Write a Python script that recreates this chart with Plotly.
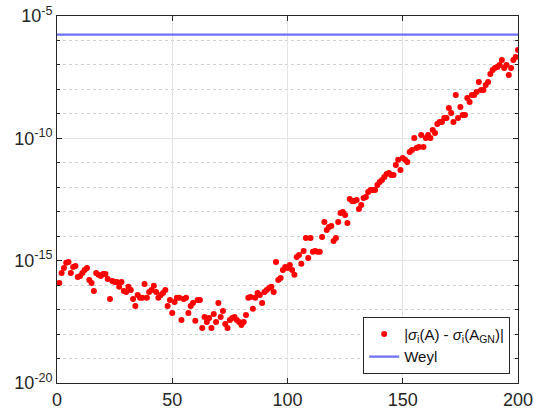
import numpy as np
import plotly.graph_objects as go

# singular value index
index = list(range(1, 201))

# log10 of |sigma_i(A) - sigma_i(A_GN)| for each index
log10_gap = [
    -15.91, -15.50, -15.30, -15.09, -15.05, -15.50, -15.26, -15.22, -15.67, -15.63,
    -15.50, -15.38, -15.30, -15.79, -15.91, -16.24, -15.50, -15.58, -15.63, -15.54,
    -15.54, -15.75, -16.57, -15.83, -15.87, -15.87, -16.07, -15.87, -16.24, -16.28,
    -16.07, -16.20, -16.57, -16.85, -16.40, -16.52, -16.52, -15.95, -16.52, -16.28,
    -16.20, -16.03, -16.28, -16.52, -16.40, -16.32, -16.20, -16.85, -16.61, -17.14,
    -16.69, -16.52, -16.52, -17.42, -16.57, -16.52, -17.14, -16.85, -16.73, -17.46,
    -16.61, -16.61, -17.75, -17.30, -17.51, -17.34, -17.75, -17.18, -17.51, -16.73,
    -17.30, -17.06, -17.59, -17.75, -17.42, -17.34, -17.30, -17.42, -17.51, -17.63,
    -17.51, -17.22, -16.52, -16.48, -16.97, -16.52, -16.32, -16.40, -16.73, -16.28,
    -16.20, -16.12, -16.07, -16.28, -15.05, -15.79, -15.71, -15.38, -15.26, -15.30,
    -15.18, -15.38, -15.58, -14.85, -14.77, -15.13, -14.60, -14.07, -14.89, -14.07,
    -14.64, -14.60, -14.64, -14.64, -14.03, -13.42, -13.75, -13.62, -13.58, -14.20,
    -14.07, -13.42, -13.05, -13.01, -13.13, -13.46, -12.48, -12.56, -12.56, -12.52,
    -12.89, -12.72, -12.44, -12.40, -12.19, -12.11, -12.11, -12.11, -11.91, -11.78,
    -11.70, -11.58, -11.46, -11.42, -11.50, -11.50, -11.09, -10.88, -11.29, -10.80,
    -10.88, -10.97, -10.56, -10.48, -9.99, -10.39, -10.35, -9.86, -10.35, -9.99,
    -9.86, -9.99, -9.66, -9.78, -9.41, -9.33, -9.33, -9.17, -9.17, -8.76,
    -8.96, -9.33, -8.23, -9.17, -8.72, -9.05, -9.05, -8.35, -8.51, -8.23,
    -8.23, -8.11, -7.70, -8.02, -8.02, -7.82, -7.70, -7.37, -7.21, -7.13,
    -7.08, -7.00, -6.80, -7.13, -7.00, -7.41, -7.13, -6.80, -6.68, -6.39,
]

# Weyl perturbation bound (constant in i)
weyl_bound = 1.73e-6
weyl_x = [0, 200]

x_ticks = [0, 50, 100, 150, 200]
y_major = [1e-20, 1e-15, 1e-10, 1e-5]
y_major_text = ["10<sup>-20</sup>", "10<sup>-15</sup>", "10<sup>-10</sup>", "10<sup>-5</sup>"]
y_minor = [10.0 ** k for k in range(-19, -5) if k % 5 != 0]

gap = 10.0 ** np.array(log10_gap)

fig = go.Figure()
fig.add_trace(go.Scatter(
    x=index, y=gap, mode="markers",
    marker=dict(color="#ff0000", size=6, line=dict(width=0)),
    name="|<i>σ</i><sub>i</sub>(A) - <i>σ</i><sub>i</sub>(A<sub>GN</sub>)|",
))
fig.add_trace(go.Scatter(
    x=weyl_x, y=[weyl_bound, weyl_bound], mode="lines",
    line=dict(color="#6f6ff5", width=2.2),
    name="Weyl",
))

fig.update_layout(
    width=534, height=409,
    margin=dict(l=57, r=16, t=16, b=26),
    paper_bgcolor="white", plot_bgcolor="white",
    font=dict(family="Liberation Sans, Arial, sans-serif", color="#262626"),
    showlegend=True,
    legend=dict(
        x=0.983, y=0.025, xanchor="right", yanchor="bottom",
        bgcolor="white", bordercolor="#262626", borderwidth=1,
        font=dict(size=15, color="#111111"),
        tracegroupgap=0, itemwidth=30,
    ),
)

fig.update_xaxes(
    range=[0, 200], tickvals=x_ticks, automargin=False,
    showline=True, linecolor="#262626", linewidth=1, mirror="ticks",
    ticks="inside", ticklen=5, tickcolor="#262626",
    showgrid=True, gridcolor="#e3e3e3", gridwidth=1,
    zeroline=False,
    tickfont=dict(size=18, color="#262626"),
)
fig.update_yaxes(
    type="log", range=[-20, -5], automargin=False,
    tickmode="array", tickvals=y_major, ticktext=y_major_text,
    showline=True, linecolor="#262626", linewidth=1, mirror="ticks",
    ticks="inside", ticklen=5, tickcolor="#262626",
    showgrid=True, gridcolor="#e3e3e3", gridwidth=1,
    zeroline=False,
    tickfont=dict(size=18, color="#262626"),
    minor=dict(
        tickmode="array", tickvals=y_minor,
        ticks="inside", ticklen=3, tickcolor="#262626",
        showgrid=True, gridcolor="#d0d0d0", griddash="dot", gridwidth=1,
    ),
)

fig.write_html("out.html")
